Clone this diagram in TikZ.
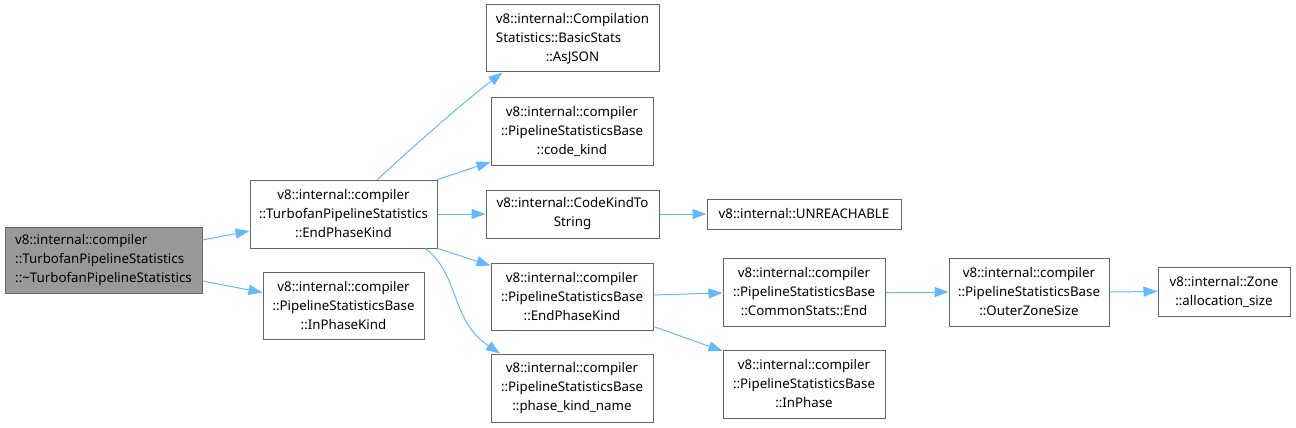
\documentclass[tikz,border=0pt]{standalone}
\usepackage{fontspec}
\setmainfont{Noto Sans}
\usepackage{calc}
\usetikzlibrary{arrows.meta}
\definecolor{edgeblue}{HTML}{63B8FF}
\definecolor{boxgray}{HTML}{666666}
\definecolor{rootfill}{HTML}{999999}
\tikzset{
  box/.style={draw=boxgray, line width=1pt, fill=white, inner sep=0pt, align=center,
    font=\fontsize{13.3}{19}\selectfont, text=black},
  conn/.style={draw=edgeblue, line width=1pt, -{Triangle[length=14pt,width=10pt]}}
}
\begin{document}
\begin{tikzpicture}[x=1pt,y=-1pt]
\useasboundingbox (0,0) rectangle (1296,428);
\node[box, fill=rootfill, align=left, minimum width=197pt, minimum height=66pt] (root) at (103.5,260) {v8::internal::compiler\\::TurbofanPipelineStatistics\\::\textasciitilde TurbofanPipelineStatistics};
\node[box, minimum width=187pt, minimum height=68pt] (epk) at (343.5,214) {v8::internal::compiler\\::TurbofanPipelineStatistics\\::EndPhaseKind};
\node[box, minimum width=161pt, minimum height=67pt] (ipk) at (343.5,305.5) {v8::internal::compiler\\::PipelineStatisticsBase\\::InPhaseKind};
\node[box, minimum width=173pt, minimum height=67pt] (json) at (572.5,38.5) {v8::internal::Compilation\\\makebox[\widthof{v8::internal::Compilation}][l]{Statistics::BasicStats}\\::AsJSON};
\node[box, minimum width=162pt, minimum height=68pt] (ck) at (572,131) {v8::internal::compiler\\::PipelineStatisticsBase\\::code\_kind};
\node[box, minimum width=173pt, minimum height=48pt] (ckts) at (572.5,214) {v8::internal::CodeKindTo\\String};
\node[box, minimum width=194pt, minimum height=30pt] (unr) at (804,214) {v8::internal::UNREACHABLE};
\node[box, minimum width=162pt, minimum height=67pt] (pepk) at (572,296.5) {v8::internal::compiler\\::PipelineStatisticsBase\\::EndPhaseKind};
\node[box, minimum width=162pt, minimum height=68pt] (pkn) at (572,388) {v8::internal::compiler\\::PipelineStatisticsBase\\::phase\_kind\_name};
\node[box, minimum width=162pt, minimum height=68pt] (cse) at (804,292) {v8::internal::compiler\\::PipelineStatisticsBase\\::CommonStats::End};
\node[box, minimum width=162pt, minimum height=68pt] (inph) at (804,384) {v8::internal::compiler\\::PipelineStatisticsBase\\::InPhase};
\node[box, minimum width=160pt, minimum height=68pt] (ozs) at (1029,292) {v8::internal::compiler\\::PipelineStatisticsBase\\::OuterZoneSize};
\node[box, minimum width=132pt, minimum height=49pt] (alloc) at (1224,291.5) {v8::internal::Zone\\::allocation\_size};

\draw[conn] ([yshift=20pt]root.east) -- ([yshift=-17pt]epk.west);
\draw[conn] ([yshift=-21pt]root.east) -- ([yshift=13pt]ipk.west);
\draw[conn] ([xshift=34pt]epk.north) .. controls (415,145) and (460,105) .. ([xshift=-70pt]json.south);
\draw[conn] (epk.north east) -- ([yshift=-31pt]ck.west);
\draw[conn] (epk.east) -- (ckts.west);
\draw[conn] (epk.south east) -- ([yshift=31pt]pepk.west);
\draw[conn] ([xshift=82pt]epk.south) .. controls (460,275) and (450,320) .. ([xshift=-72pt]pkn.north);
\draw[conn] (ckts.east) -- (unr.west);
\draw[conn] ([yshift=1.5pt]pepk.east) -- ([yshift=-1pt]cse.west);
\draw[conn] ([yshift=-30pt]pepk.east) -- ([yshift=33pt]inph.west);
\draw[conn] (cse.east) -- (ozs.west);
\draw[conn] (ozs.east) -- (alloc.west);
\end{tikzpicture}
\end{document}
